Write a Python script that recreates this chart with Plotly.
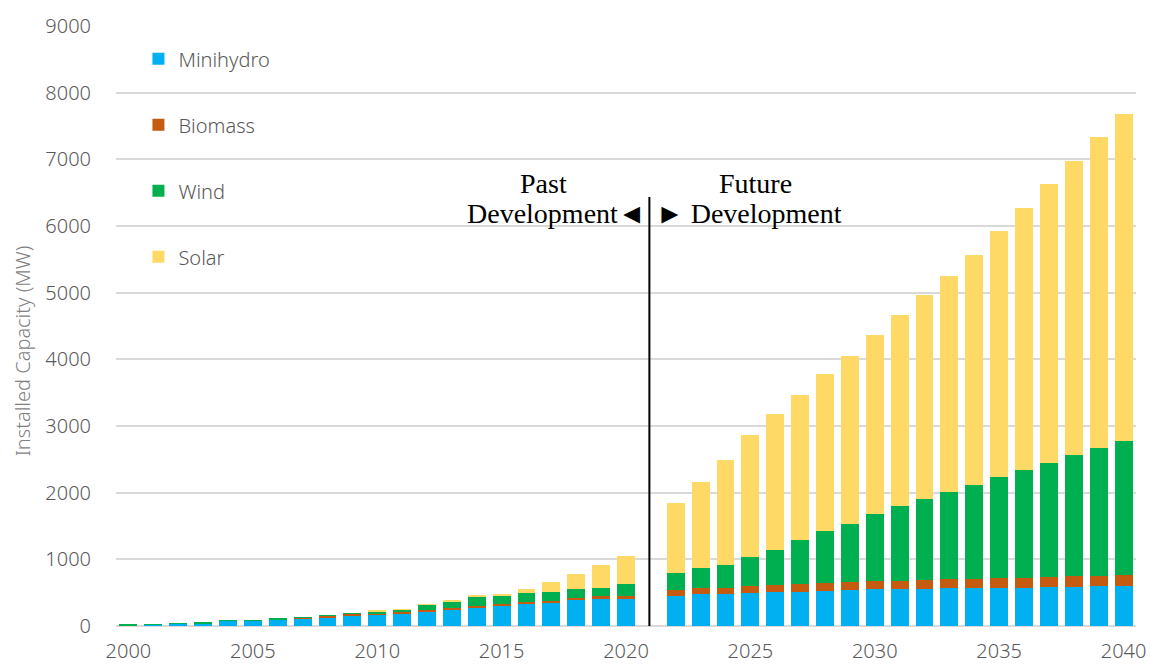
import plotly.graph_objects as go

years = [2000, 2001, 2002, 2003, 2004, 2005, 2006, 2007, 2008, 2009, 2010,
         2011, 2012, 2013, 2014, 2015, 2016, 2017, 2018, 2019, 2020,
         2022, 2023, 2024, 2025, 2026, 2027, 2028, 2029, 2030, 2031,
         2032, 2033, 2034, 2035, 2036, 2037, 2038, 2039, 2040]

minihydro = [10, 15, 35, 42, 78, 75, 100, 115, 132, 162, 170,
             191, 221, 251, 281, 302, 337, 347, 387, 402, 402,
             454, 480, 485, 495, 510, 515, 530, 540, 550, 550,
             555, 565, 570, 570, 575, 580, 585, 595, 600]
biomass = [0, 0, 0, 0, 0, 0, 0, 5, 20, 18, 12,
           15, 15, 20, 20, 25, 25, 30, 40, 45, 50,
           80, 84, 90, 100, 100, 115, 110, 115, 125, 130,
           140, 135, 140, 150, 150, 155, 165, 160, 170]
wind = [10, 8, 2, 4, 4, 7, 12, 7, 5, 7, 40,
        40, 81, 101, 136, 125, 135, 136, 126, 126, 176,
        266, 300, 345, 435, 535, 655, 780, 875, 1005, 1115,
        1205, 1310, 1405, 1510, 1610, 1715, 1810, 1915, 2010]
solar = [0, 0, 0, 0, 0, 0, 0, 0, 0, 0, 8,
         5, 10, 10, 15, 35, 61, 140, 231, 342, 417,
         1045, 1301, 1570, 1835, 2030, 2186, 2355, 2520, 2690, 2875,
         3065, 3245, 3455, 3690, 3940, 4175, 4410, 4660, 4895]

series_names = ["Minihydro", "Biomass", "Wind", "Solar"]
series_values = [minihydro, biomass, wind, solar]
series_colors = ["#00B0F0", "#C55A11", "#00B050", "#FFD966"]

x_tick_values = [2000, 2005, 2010, 2015, 2020, 2025, 2030, 2035, 2040]
y_tick_values = [0, 1000, 2000, 3000, 4000, 5000, 6000, 7000, 8000, 9000]

divider_year = 2021

fig = go.Figure()
for name, vals, col in zip(series_names, series_values, series_colors):
    fig.add_trace(go.Bar(
        x=years, y=vals, name=name, marker=dict(color=col, line=dict(width=0)),
        legendgroup=name,
    ))

FONT = "Noto Sans, Segoe UI, sans-serif"
SERIF = "Liberation Serif, serif"
GRAY = "#595959"

fig.update_layout(
    width=1150, height=666,
    barmode="stack", bargap=0.28,
    plot_bgcolor="white", paper_bgcolor="white",
    margin=dict(l=116, r=14, t=26, b=40, autoexpand=False),
    font=dict(family=FONT, size=20, color=GRAY, weight=300),
    showlegend=True,
    legend=dict(
        x=0.022, y=0.978, xanchor="left", yanchor="top",
        traceorder="grouped", tracegroupgap=37,
        font=dict(family=FONT, size=20, color=GRAY, weight=300),
        bgcolor="rgba(0,0,0,0)",
    ),
    xaxis=dict(
        range=[1999.5, 2040.5], tickvals=x_tick_values,
        showgrid=False, zeroline=False, showline=False, automargin=False,
        ticks="", tickfont=dict(size=20, color=GRAY, weight=300),
        ticklabelstandoff=11,
    ),
    yaxis=dict(
        range=[0, 9000], tickvals=y_tick_values, automargin=False,
        showgrid=True, gridcolor="#D9D9D9", gridwidth=1.5,
        zeroline=True, zerolinecolor="#D9D9D9", zerolinewidth=1.5,
        ticks="", tickfont=dict(size=20, color=GRAY, weight=300),
        ticklabelstandoff=24,
    ),
)

fig.add_shape(type="line", xref="x", yref="paper",
              x0=divider_year - 0.06, x1=divider_year - 0.06, y0=0, y1=0.715,
              line=dict(color="black", width=2))

fig.add_annotation(text="Installed Capacity (MW)", xref="paper", yref="paper",
                   x=-0.092, y=0.458, textangle=-90, showarrow=False,
                   xanchor="center", yanchor="middle",
                   font=dict(family=FONT, size=20, color="#7F7F7F", weight=300))

ann_font = dict(family=SERIF, size=28, color="black")
fig.add_annotation(text="Past", xref="paper", yref="paper",
                   x=(543 - 116) / 1020, y=(626 - 183) / 600, showarrow=False,
                   xanchor="center", yanchor="middle", font=ann_font)
fig.add_annotation(text="Development◄", xref="paper", yref="paper",
                   x=(556.5 - 116) / 1020, y=(626 - 213.5) / 600, showarrow=False,
                   xanchor="center", yanchor="middle", font=ann_font)
fig.add_annotation(text="Future", xref="paper", yref="paper",
                   x=(755.5 - 116) / 1020, y=(626 - 183) / 600, showarrow=False,
                   xanchor="center", yanchor="middle", font=ann_font)
fig.add_annotation(text="► Development", xref="paper", yref="paper",
                   x=(749 - 116) / 1020, y=(626 - 213.5) / 600, showarrow=False,
                   xanchor="center", yanchor="middle", font=ann_font)

fig.write_html("out.html", config={"displayModeBar": False},
               post_script="document.body.style.margin='0';document.body.style.padding='0';")
